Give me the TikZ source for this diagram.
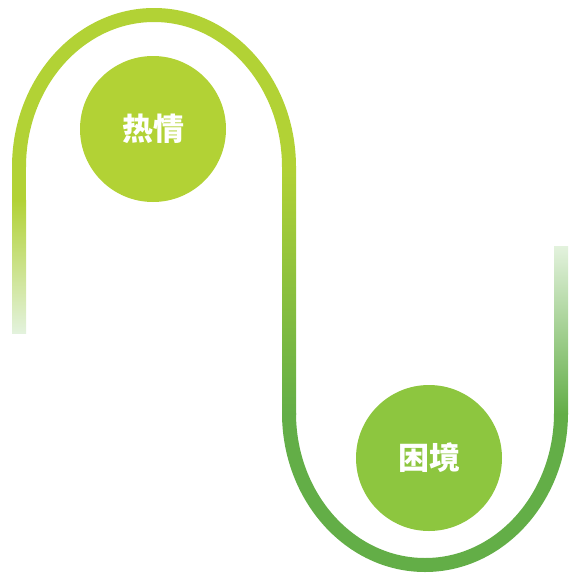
\documentclass[tikz,border=0pt]{standalone}
\usepackage{fontspec}
\usepackage{tikz}
\newfontfamily\cjk{Noto Sans CJK SC}
\definecolor{lime}{HTML}{B2D235}
\definecolor{leaf}{HTML}{8DC63F}
\definecolor{forest}{HTML}{63AE47}
\definecolor{pale}{HTML}{E3F2DD}

\begin{document}
\begin{tikzpicture}[x=1pt,y=-1pt,
    bubble/.style={circle,minimum size=146pt,inner sep=0pt,text=white,font=\cjk\bfseries\fontsize{31}{31}\selectfont}]
  \useasboundingbox (0,0) rectangle (568,573);
  % top bend
  \draw[lime,line width=14pt] (19,167) arc[start angle=180,end angle=360,x radius=135,y radius=152];
  % bottom bend
  \draw[forest,line width=14pt] (289,413) arc[start angle=180,end angle=0,x radius=136,y radius=152];
  % straight parts
  \fill[lime] (12,166) rectangle (26,200);
  \shade[top color=lime,bottom color=pale] (12,200) rectangle (26,333);
  \shade[top color=lime,bottom color=forest] (282,166) rectangle (296,414);
  \shade[top color=pale,bottom color=forest] (554,246) rectangle (568,414);
  % labels
  \node[bubble,fill=lime] (passion) at (153,129) {热情};
  \node[bubble,fill=leaf] (plight) at (429,458) {困境};
\end{tikzpicture}
\end{document}
